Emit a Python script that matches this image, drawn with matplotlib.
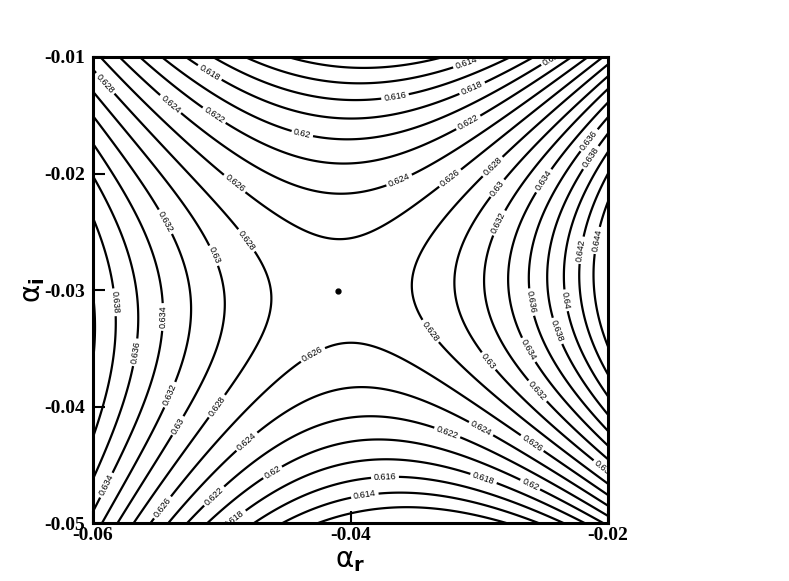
import numpy as np
import matplotlib
matplotlib.use('Agg')
import matplotlib.pyplot as plt

# saddle in the complex alpha plane
x_range = [-0.06, -0.02]
y_range = [-0.05, -0.01]
x_ticks = [-0.06, -0.04, -0.02]
y_ticks = [-0.05, -0.04, -0.03, -0.02, -0.01]
tick_labels_x = ['-0.06', '-0.04', '-0.02']
tick_labels_y = ['-0.05', '-0.04', '-0.03', '-0.02', '-0.01']

levels = [0.612, 0.614, 0.616, 0.618, 0.620, 0.622, 0.624, 0.626,
          0.628, 0.630, 0.632, 0.634, 0.636, 0.638, 0.640, 0.642, 0.644]

# local expansion around the saddle, fitted to contour crossings
center_x = -0.0406
center_y = -0.0301
center_value = 0.6268
coef2 = 40.0 - 4.0j
coef3 = 260.0

saddle_point = (-0.0410, -0.0301)

# where the contour labels sit (alpha_r, alpha_i)
label_x = [-0.05946, -0.05417, -0.05068, -0.05091, -0.04377, -0.04897, -0.05441,
           -0.05052, -0.04804, -0.03095, -0.02427, -0.03654, -0.03056, -0.03087,
           -0.02179, -0.02163, -0.03616, -0.03227, -0.02893, -0.02862, -0.02544,
           -0.02862, -0.02217, -0.02101, -0.05806, -0.05441, -0.05635, -0.05363,
           -0.05029, -0.05324, -0.04291, -0.04796, -0.04602, -0.05052, -0.05868,
           -0.05464, -0.04913, -0.02590, -0.02311, -0.03367, -0.02373, -0.02590,
           -0.02917, -0.02513, -0.03250, -0.02979, -0.02583, -0.02606, -0.02971,
           -0.03732, -0.03887, -0.02062]
label_y = [-0.01266, -0.01429, -0.01515, -0.01129, -0.01670, -0.02082, -0.02416,
           -0.02700, -0.02571, -0.01069, -0.01052, -0.01343, -0.01266, -0.01558,
           -0.01687, -0.01841, -0.02073, -0.02039, -0.01944, -0.02124, -0.02030,
           -0.02416, -0.02657, -0.02571, -0.03103, -0.03232, -0.03541, -0.03918,
           -0.04004, -0.04176, -0.03558, -0.04313, -0.04571, -0.04777, -0.04691,
           -0.04863, -0.04948, -0.03103, -0.03086, -0.03343, -0.03343, -0.03498,
           -0.03601, -0.03833, -0.04227, -0.04176, -0.04305, -0.04674, -0.04631,
           -0.04614, -0.04777, -0.04545]


def field(xx, yy):
    z = (xx - center_x) + 1j * (yy - center_y)
    return center_value + np.real(coef2 * z**2 + coef3 * z**3)


def fmt(v):
    return ('%.3f' % v).rstrip('0')


xs = np.linspace(x_range[0], x_range[1], 500)
ys = np.linspace(y_range[0], y_range[1], 500)
X, Y = np.meshgrid(xs, ys)
Z = field(X, Y)

plt.rcParams['mathtext.fontset'] = 'dejavusans'

fig = plt.figure(figsize=(7.89, 5.81), dpi=100)
ax = fig.add_axes([0.1179, 0.0998, 0.6527, 0.8021])

cs = ax.contour(X, Y, Z, levels=levels, colors='black', linewidths=1.6)
ax.set_xlim(x_range)
ax.set_ylim(y_range)

spots = list(zip(label_x, label_y))
lbls = ax.clabel(cs, fmt=fmt, fontsize=6.5, inline=True, inline_spacing=1,
                 manual=spots)
for t in lbls:
    t.set_family('Liberation Sans')
    t.set_clip_on(True)

ax.plot(saddle_point[0], saddle_point[1], 'o', color='black', markersize=3.5)

ax.set_xticks(x_ticks)
ax.set_xticklabels(tick_labels_x)
ax.set_yticks(y_ticks)
ax.set_yticklabels(tick_labels_y)
for lab in ax.get_xticklabels() + ax.get_yticklabels():
    lab.set_family('Liberation Serif')
    lab.set_weight('bold')
    lab.set_fontsize(14)
ax.tick_params(direction='in', length=8.5, width=1.5, pad=3)
ax.tick_params(axis='y', pad=6)
for s in ax.spines.values():
    s.set_linewidth(2.2)

ax.set_xlabel(r'$\mathrm{\alpha}_{\mathbf{r}}$', fontsize=20, labelpad=1)
ax.set_ylabel(r'$\mathrm{\alpha}_{\mathbf{i}}$', fontsize=20, labelpad=-2)

fig.savefig('out.png', dpi=100)
